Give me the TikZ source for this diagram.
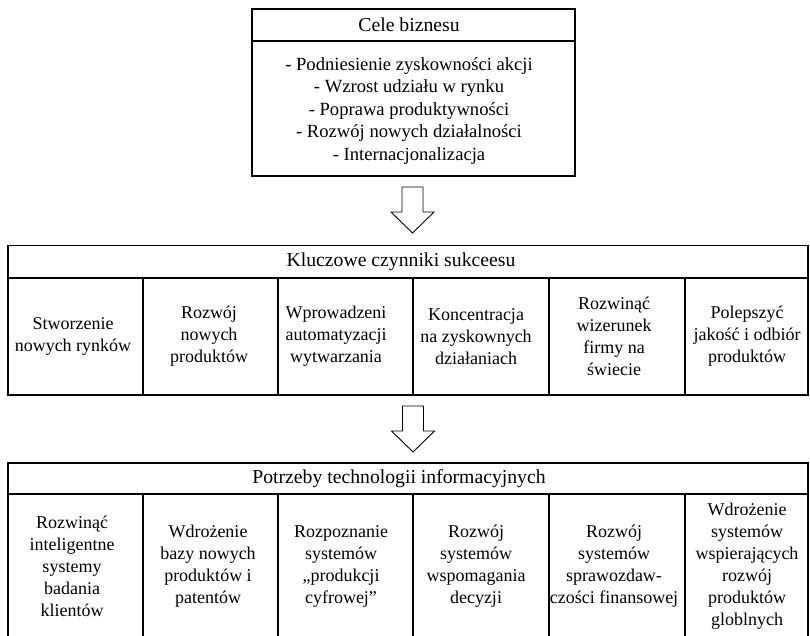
\documentclass[tikz,border=0pt]{standalone}
\usepackage{fontspec}
\setmainfont{Liberation Serif}
\begin{document}
\begin{tikzpicture}[x=1pt,y=-1pt,
  frame/.style={draw=black, line width=1.3pt, inner sep=0pt},
  rule/.style={draw=black, line width=1.3pt},
  cell/.style={align=center, inner sep=0pt, font=\fontsize{18}{22}\selectfont},
  listtext/.style={align=center, inner sep=0pt, font=\fontsize{18.6}{22.5}\selectfont},
  head/.style={align=center, inner sep=0pt, font=\fontsize{19.7}{23}\selectfont},
  blockarrow/.style={draw=black, line width=0.9pt, fill=white, line join=miter},
  downarrow/.pic={\draw[blockarrow] (-10.5,-46) -- (10.5,-46) -- (10.5,-21) -- (21.5,-21) -- (0,0) -- (-21.5,-21) -- (-10.5,-21) -- cycle;}]
\useasboundingbox (0,0) rectangle (810,635);
\fill[white] (0,0) rectangle (810,635);
\clip (0,0) rectangle (810,635);

% ---- top box
\node[frame, minimum width=323pt, minimum height=167pt] (cele) at (413.5,92.5) {};
\draw[rule] (252,41) -- (575,41);
\node[head] (celet) at (409,25) {Cele biznesu};
\node[listtext] (celel) at (409,111) {- Podniesienie zyskowności akcji\\
 - Wzrost udziału w rynku\\
 - Poprawa produktywności\\
 - Rozwój nowych działalności\\
 - Internacjonalizacja};

% ---- arrow 1
\coordinate (tip1) at (412.5,233);
\pic at (tip1) {downarrow};

% ---- middle box
\node[frame, minimum width=800pt, minimum height=149.5pt] (kcs) at (408,320.25) {};
\draw[rule] (8,278) -- (808,278);
\foreach \xx in {143,278,413,549,685} \draw[rule] (\xx,278) -- (\xx,395);
\node[head] (kcst) at (401,262) {Kluczowe czynniki sukceesu};
\node[cell] (k1) at (73,336.5) {Stworzenie\\nowych rynków};
\node[cell] (k2) at (209,336.5) {Rozwój\\nowych\\produktów};
\node[cell] (k3) at (336,336.5) {Wprowadzeni\\automatyzacji\\wytwarzania};
\node[cell] (k4) at (476,336.5) {Koncentracja\\na zyskownych\\działaniach};
\node[cell] (k5) at (614,336.5) {Rozwinąć\\wizerunek\\firmy na\\świecie};
\node[cell] (k6) at (747,336.5) {Polepszyć\\jakość i odbiór\\produktów};

% ---- arrow 2
\coordinate (tip2) at (413,452);
\pic at (tip2) {downarrow};

% ---- bottom box (its lower edge lies below the picture)
\node[frame, minimum width=800pt, minimum height=180pt] (pti) at (408,553) {};
\draw[rule] (8,494) -- (808,494);
\foreach \xx in {143,278,413,549,685} \draw[rule] (\xx,494) -- (\xx,643);
\node[head] (ptit) at (399,478.5) {Potrzeby technologii informacyjnych};
\node[cell] (p1) at (72,566) {Rozwinąć\\inteligentne\\systemy\\badania\\klientów};
\node[cell] (p2) at (208,566) {Wdrożenie\\bazy nowych\\produktów i\\patentów};
\node[cell] (p3) at (341,566) {Rozpoznanie\\systemów\\„produkcji\\cyfrowej”};
\node[cell] (p4) at (476,566) {Rozwój\\systemów\\wspomagania\\decyzji};
\node[cell] (p5) at (614,566) {Rozwój\\systemów\\sprawozdaw-\\czości finansowej};
\node[cell] (p6) at (747,566) {Wdrożenie\\systemów\\wspierających\\rozwój\\produktów\\globlnych};
\end{tikzpicture}
\end{document}
